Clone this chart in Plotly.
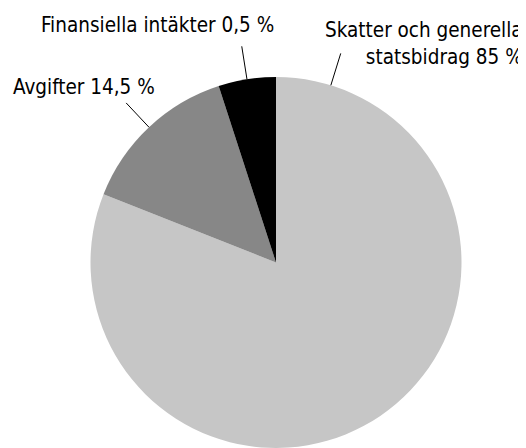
import math
import plotly.graph_objects as go

# Data
categories = ["Skatter och generella statsbidrag", "Avgifter", "Finansiella intäkter"]
values = [81, 14, 5]
label_texts = ["Skatter och generella<br>statsbidrag 85 %", "Avgifter 14,5 %", "Finansiella intäkter 0,5 %"]
colors = ["#c6c6c6", "#878787", "#000000"]

OFF = 8  # page body margin
W, H = 526 - OFF, 448 - OFF
cx_px, top_px = 276 - OFF, 77 - OFF
FONT = "DejaVu Sans Condensed, DejaVu Sans"
FS = 20.5

# pie domain (pixels -> paper), clamp at bottom
dom_y0 = 0.0
dom_y1 = 1 - top_px / H
rad = (dom_y1 - dom_y0) * H / 2
cy_px = top_px + rad
dom_x0 = (cx_px - rad) / W
dom_x1 = (cx_px + rad) / W

fig = go.Figure(go.Pie(
    labels=categories, values=values, sort=False, direction="clockwise", rotation=0,
    marker=dict(colors=colors, line=dict(width=0)), textinfo="none", hoverinfo="label+percent",
    domain=dict(x=[dom_x0, dom_x1], y=[dom_y0, dom_y1]), showlegend=False,
))

# leader lines: angle (deg clockwise from top) for each label
total = sum(values)
cum = 0
mid_angles = []
for v in values:
    mid_angles.append((cum + v / 2) / total * 360)
    cum += v
line_angles = [17.2, mid_angles[1], mid_angles[2]]
shapes = []
for a in line_angles:
    t = math.radians(a)
    r0, r1 = rad * 1.0, rad * 1.18
    x0 = cx_px + r0 * math.sin(t); y0 = cy_px - r0 * math.cos(t)
    x1 = cx_px + r1 * math.sin(t); y1 = cy_px - r1 * math.cos(t)
    shapes.append(dict(type="line", xref="paper", yref="paper",
                       x0=x0 / W, y0=1 - y0 / H, x1=x1 / W, y1=1 - y1 / H,
                       line=dict(color="black", width=1)))

# label placements (window pixel anchor, xanchor)
placements = [(525, 43.5, "right"), (11, 86.5, "left"), (39, 25, "left")]
annotations = []
for txt, (px, py, xa) in zip(label_texts, placements):
    annotations.append(dict(text=txt, x=(px - OFF) / W, y=1 - (py - OFF) / H, xref="paper", yref="paper",
                            xanchor=xa, yanchor="middle", align=xa, showarrow=False,
                            font=dict(family=FONT, size=FS, color="black")))

fig.update_layout(width=W, height=H, margin=dict(l=0, r=0, t=0, b=0),
                  paper_bgcolor="white", plot_bgcolor="white",
                  shapes=shapes, annotations=annotations)
fig.write_html("out.html")
